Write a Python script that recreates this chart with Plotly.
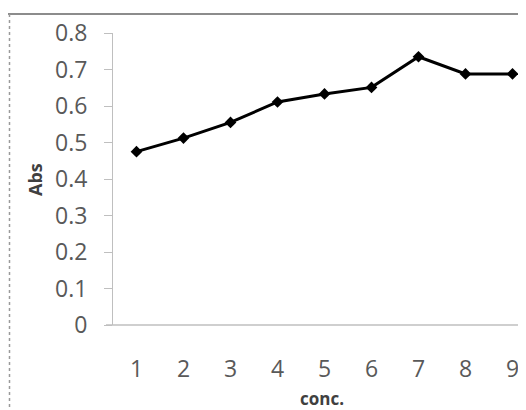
import plotly.graph_objects as go

conc = [1, 2, 3, 4, 5, 6, 7, 8, 9]
abs_vals = [0.475, 0.512, 0.555, 0.611, 0.633, 0.651, 0.735, 0.688, 0.688]
y_ticks = [0, 0.1, 0.2, 0.3, 0.4, 0.5, 0.6, 0.7, 0.8]
y_labels = ["0", "0.1", "0.2", "0.3", "0.4", "0.5", "0.6", "0.7", "0.8"]

# page has an 8px body margin; work in figure coords = page - 8
OFF = 8
W, H = 526 - OFF, 410 - OFF
L, T = 113 - OFF, 33 - OFF
PB = 325 - OFF  # plot bottom in figure px
R, B = 0, H - PB
pw, ph = W - L - R, PB - T
STEP = 47.0  # px per category


def px(xp):  # page x -> paper
    return (xp - OFF - L) / pw


def py(yp):  # page y -> paper
    return (PB - (yp - OFF)) / ph


fig = go.Figure()
fig.add_trace(go.Scatter(
    x=conc, y=abs_vals, mode="lines+markers",
    line=dict(color="black", width=3),
    marker=dict(symbol="diamond", size=9, color="black"),
    showlegend=False, cliponaxis=False,
))

FAM = "Open Sans, sans-serif"
font = dict(family=FAM, size=23, color="#595959")

fig.update_layout(
    width=W, height=H,
    margin=dict(l=L, r=R, t=T, b=B, autoexpand=False),
    paper_bgcolor="white", plot_bgcolor="white",
    xaxis=dict(
        range=[0.5, 0.5 + pw / STEP], tickmode="array", tickvals=conc,
        ticktext=[str(c) for c in conc], automargin=False,
        showgrid=False, zeroline=False, showline=False,
        ticks="", tickfont=font, ticklabelstandoff=28,
    ),
    yaxis=dict(
        range=[0, 0.8], tickmode="array", tickvals=y_ticks, ticktext=y_labels,
        showgrid=False, zeroline=False, showline=True, linecolor="#bfbfbf", linewidth=1,
        ticks="outside", ticklen=8, tickcolor="#bfbfbf", tickfont=font, automargin=False,
        ticklabelstandoff=12,
    ),
)

fig.add_annotation(text="<b>Abs</b>", xref="paper", yref="paper",
                   x=px(35), y=py(180), xanchor="center", yanchor="middle",
                   showarrow=False, textangle=-90,
                   font=dict(family=FAM, size=18, color="#404040"))
fig.add_annotation(text="<b>conc.</b>", xref="paper", yref="paper",
                   x=px(322), y=py(398), xanchor="center", yanchor="middle",
                   showarrow=False,
                   font=dict(family=FAM, size=17, color="#404040"))

# x axis line (starting at tick start)
fig.add_shape(type="line", xref="paper", yref="paper",
              x0=px(106), x1=1, y0=0, y1=0, line=dict(color="#bfbfbf", width=1.5))
# top border
fig.add_shape(type="line", xref="paper", yref="paper",
              x0=px(8), x1=1.05, y0=py(14), y1=py(14),
              line=dict(color="#8c8c8c", width=2))
# left dashed border
fig.add_shape(type="line", xref="paper", yref="paper",
              x0=px(9.5), x1=px(9.5), y0=py(14), y1=py(420),
              line=dict(color="#9a9a9a", width=1.5, dash="dot"))

fig.write_html("out.html")
